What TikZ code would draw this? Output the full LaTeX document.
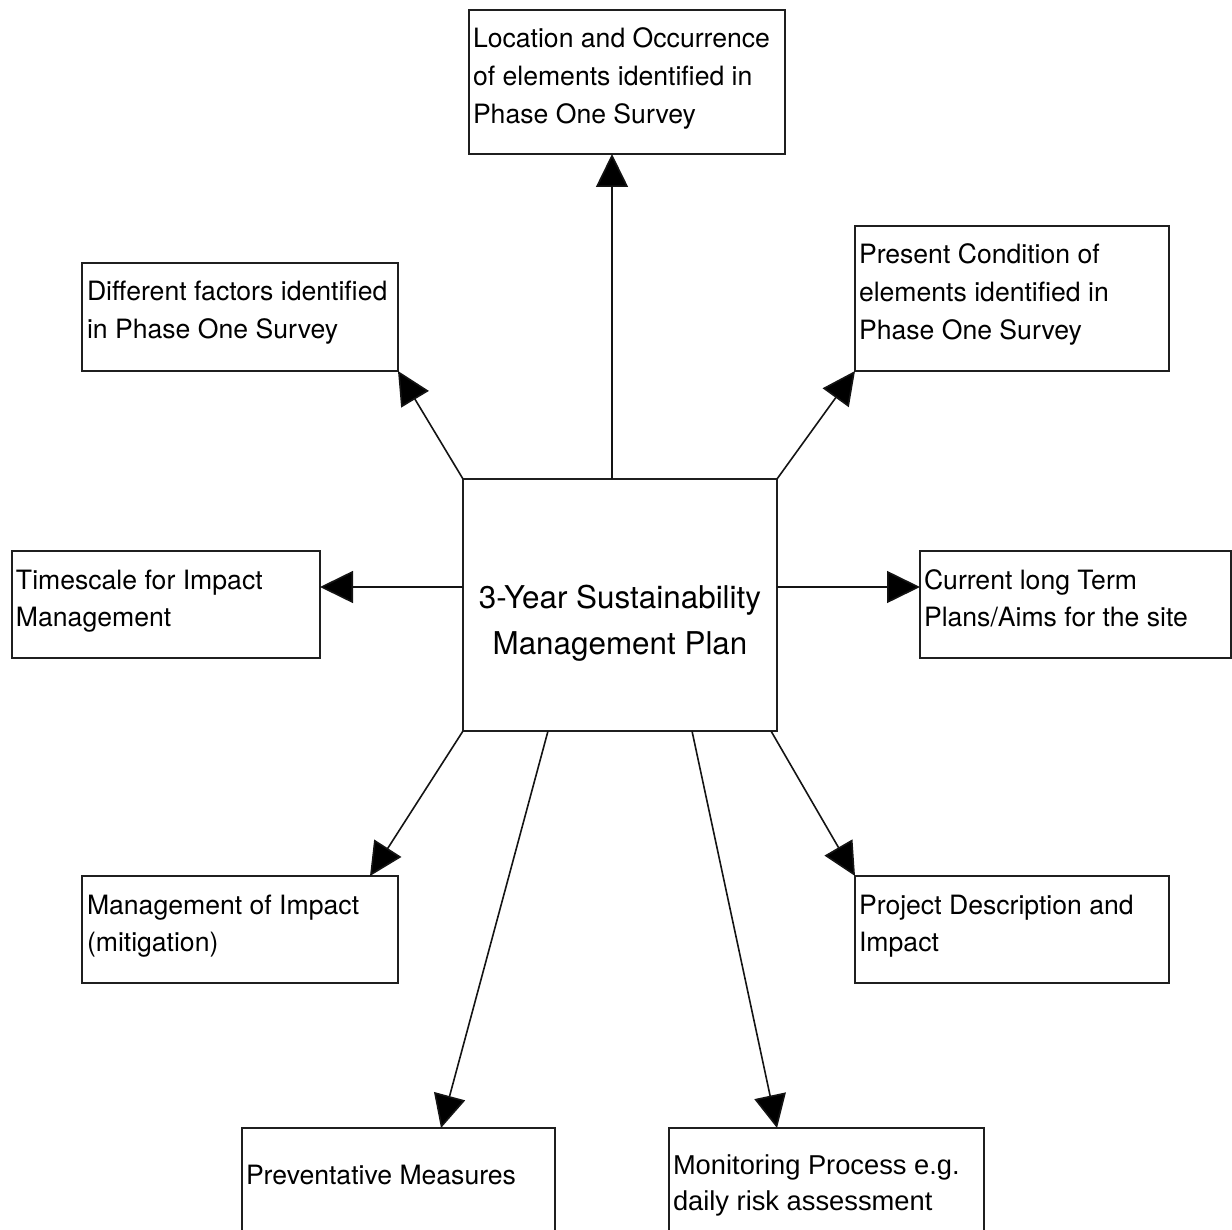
\documentclass[tikz,border=0pt]{standalone}
\usepackage{fontspec}
\setmainfont{TeX Gyre Heros}
\newfontfamily\arialfont{Liberation Sans}
\usetikzlibrary{arrows.meta,calc}
\begin{document}
\begin{tikzpicture}[x=1pt,y=-1pt,
  bx/.style={draw=black!88, line width=1.3pt, inner sep=0pt, outer sep=0pt, anchor=north west},
  txt/.style={anchor=north west, inner sep=0pt, outer sep=0pt, align=left,
              font=\fontsize{26.6}{37.6}\selectfont},
  conn/.style={draw=black!92, line width=1.6pt, -{Triangle[length=33pt,width=32pt,fill=black]}}]
\useasboundingbox (0,0) rectangle (1232,1230);
% boxes
\node[bx, minimum width=316pt, minimum height=144pt] (loc) at (469,10) {};
\node[bx, minimum width=316pt, minimum height=108pt] (df)  at (82,263) {};
\node[bx, minimum width=314pt, minimum height=145pt] (pc)  at (855,226) {};
\node[bx, minimum width=308pt, minimum height=107pt] (ts)  at (12,551) {};
\node[bx, minimum width=311pt, minimum height=107pt] (cl)  at (920,551) {};
\node[bx, minimum width=314pt, minimum height=252pt] (c)   at (463,479) {};
\node[bx, minimum width=316pt, minimum height=107pt] (mg)  at (82,876) {};
\node[bx, minimum width=314pt, minimum height=107pt] (pd)  at (855,876) {};
\node[bx, minimum width=313pt, minimum height=130pt] (pv)  at (242,1128) {};
\node[bx, minimum width=315pt, minimum height=130pt] (mp)  at (669,1128) {};
% texts
\node[txt] (locT) at (473,26) {\rule{0pt}{22pt}Location and Occurrence\\of elements identified in\\Phase One Survey};
\node[txt] (dfT) at (87,279) {\rule{0pt}{22pt}Different factors identified\\in Phase One Survey};
\node[txt] (pcT) at (859,242) {\rule{0pt}{22pt}Present Condition of\\elements identified in\\Phase One Survey};
\node[txt] (tsT) at (16,567) {\rule{0pt}{22pt}Timescale for Impact\\Management};
\node[txt] (clT) at (924,567) {\rule{0pt}{22pt}Current long Term\\Plans/Aims for the site};
\node[txt] (mgT) at (87,892) {\rule{0pt}{22pt}Management of Impact\\(mitigation)};
\node[txt] (pdT) at (859,892) {\rule{0pt}{22pt}Project Description and\\Impact};
\node[txt] (pvT) at (246,1162) {\rule{0pt}{22pt}Preventative Measures};
\node[txt, font=\arialfont\fontsize{27.3}{36}\selectfont] (mpT) at (673,1152) {\rule{0pt}{22pt}Monitoring Process e.g.\\daily risk assessment};
\node[anchor=north, inner sep=0pt, align=center, font=\fontsize{31.4}{46}\selectfont] (cT) at (620,583)
  {\rule{0pt}{25pt}3-Year Sustainability\\Management Plan};
% connectors
\draw[conn] ($(c.north west)+(149,0)$) -- ($(loc.south west)+(143,0)$);
\draw[conn] (c.north west) -- (df.south east);
\draw[conn] (c.north east) -- (pc.south west);
\draw[conn] ($(c.north west)+(0,108)$) -- ($(ts.north east)+(0,36)$);
\draw[conn] ($(c.north east)+(0,108)$) -- ($(cl.north west)+(0,36)$);
\draw[conn] (c.south west) -- ($(mg.north east)+(-28,0)$);
\draw[conn] ($(c.south east)+(-6,0)$) -- (pd.north west);
\draw[conn] ($(c.south west)+(85,0)$) -- ($(pv.north west)+(199,0)$);
\draw[conn] ($(c.south west)+(229,0)$) -- ($(mp.north west)+(108,0)$);
\end{tikzpicture}
\end{document}
